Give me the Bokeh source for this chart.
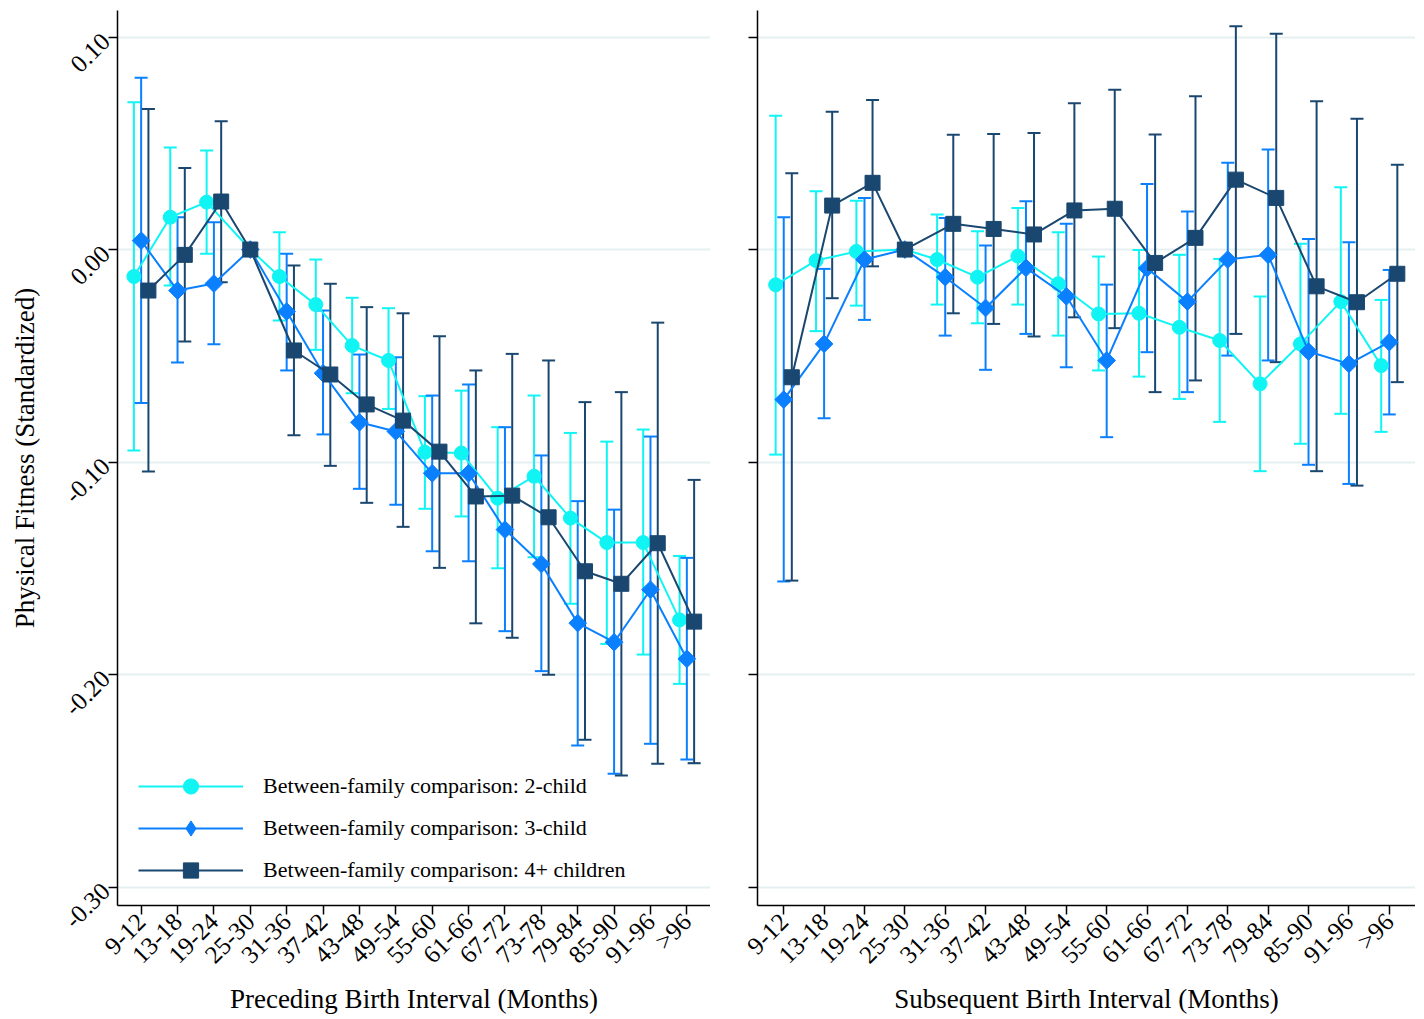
import math
from bokeh.plotting import figure
from bokeh.models import (ColumnDataSource, Range1d, FixedTicker, PrintfTickFormatter,
                          CustomJSTickFormatter, Whisker, TeeHead, Legend, LegendItem)
from bokeh.layouts import row
from bokeh.embed import file_html
from bokeh.resources import INLINE

# ---------------- data ----------------
categories = ["9-12", "13-18", "19-24", "25-30", "31-36", "37-42", "43-48", "49-54",
              "55-60", "61-66", "67-72", "73-78", "79-84", "85-90", "91-96", ">96"]
ref_category = "25-30"
y_ticks = [0.10, 0.00, -0.10, -0.20, -0.30]

series_names = ["Between-family comparison: 2-child",
                "Between-family comparison: 3-child",
                "Between-family comparison: 4+ children"]

# Preceding birth interval
pre_2 = [-0.0127, 0.0152, 0.0223, 0, -0.0127, -0.0259, -0.0452, -0.0522, -0.0954, -0.0958, -0.1170, -0.1067, -0.1264, -0.1379, -0.1379, -0.1743]
pre_2_lo = [-0.0946, -0.0169, -0.0020, 0, -0.0334, -0.0472, -0.0676, -0.0750, -0.1220, -0.1256, -0.1500, -0.1448, -0.1667, -0.1856, -0.1906, -0.2044]
pre_2_hi = [0.0693, 0.0480, 0.0466, 0, 0.0081, -0.0047, -0.0227, -0.0276, -0.0690, -0.0664, -0.0836, -0.0687, -0.0863, -0.0904, -0.0847, -0.1442]

pre_3 = [0.0042, -0.0193, -0.0160, 0, -0.0292, -0.0582, -0.0813, -0.0856, -0.1053, -0.1053, -0.1318, -0.1480, -0.1758, -0.1848, -0.1601, -0.1926]
pre_3_lo = [-0.0722, -0.0532, -0.0446, 0, -0.0569, -0.0870, -0.1126, -0.1201, -0.1420, -0.1467, -0.1796, -0.1984, -0.2334, -0.2467, -0.2326, -0.2400]
pre_3_hi = [0.0808, 0.0152, 0.0128, 0, -0.0020, -0.0287, -0.0494, -0.0507, -0.0687, -0.0635, -0.0836, -0.0969, -0.1184, -0.1224, -0.0880, -0.1451]

pre_4 = [-0.0193, -0.0025, 0.0226, 0, -0.0475, -0.0588, -0.0729, -0.0805, -0.0951, -0.1162, -0.1158, -0.1260, -0.1514, -0.1573, -0.1382, -0.1751]
pre_4_lo = [-0.1045, -0.0433, -0.0154, 0, -0.0874, -0.1018, -0.1192, -0.1305, -0.1498, -0.1759, -0.1827, -0.2001, -0.2307, -0.2475, -0.2420, -0.2417]
pre_4_hi = [0.0662, 0.0384, 0.0604, 0, -0.0075, -0.0161, -0.0271, -0.0300, -0.0408, -0.0569, -0.0491, -0.0522, -0.0718, -0.0671, -0.0344, -0.1084]

# Subsequent birth interval
sub_2 = [-0.0166, -0.0052, -0.0009, 0, -0.0047, -0.0130, -0.0031, -0.0161, -0.0303, -0.0300, -0.0366, -0.0428, -0.0632, -0.0444, -0.0245, -0.0546]
sub_2_lo = [-0.0965, -0.0384, -0.0264, 0, -0.0259, -0.0347, -0.0259, -0.0405, -0.0569, -0.0598, -0.0703, -0.0811, -0.1043, -0.0914, -0.0773, -0.0858]
sub_2_hi = [0.0630, 0.0274, 0.0230, 0, 0.0165, 0.0086, 0.0196, 0.0081, -0.0033, -0.0002, -0.0025, -0.0044, -0.0221, 0.0027, 0.0293, -0.0237]

sub_3 = [-0.0706, -0.0444, -0.0047, 0, -0.0130, -0.0275, -0.0086, -0.0220, -0.0522, -0.0088, -0.0245, -0.0047, -0.0025, -0.0480, -0.0538, -0.0436]
sub_3_lo = [-0.1562, -0.0794, -0.0331, 0, -0.0405, -0.0566, -0.0397, -0.0554, -0.0883, -0.0483, -0.0671, -0.0499, -0.0522, -0.1013, -0.1103, -0.0776]
sub_3_hi = [0.0152, -0.0091, 0.0243, 0, 0.0149, 0.0019, 0.0227, 0.0121, -0.0165, 0.0309, 0.0179, 0.0408, 0.0471, 0.0050, 0.0034, -0.0096]

sub_4 = [-0.0601, 0.0207, 0.0314, 0, 0.0121, 0.0097, 0.0071, 0.0184, 0.0192, -0.0063, 0.0055, 0.0329, 0.0243, -0.0173, -0.0248, -0.0114]
sub_4_lo = [-0.1558, -0.0229, -0.0079, 0, -0.0300, -0.0350, -0.0409, -0.0319, -0.0370, -0.0671, -0.0616, -0.0397, -0.0530, -0.1043, -0.1111, -0.0624]
sub_4_hi = [0.0359, 0.0649, 0.0704, 0, 0.0540, 0.0544, 0.0549, 0.0688, 0.0752, 0.0541, 0.0721, 0.1051, 0.1015, 0.0698, 0.0616, 0.0399]

# ---------------- style ----------------
FONT = "Liberation Serif"
colors = ["#10f4f4", "#0a80ff", "#1a476f"]
markers = [("circle", 14, 0.0), ("square", 12.5, math.pi / 4), ("square", 15, 0.0)]
legend_markers = ["circle", "diamond", "square"]
offsets = [-0.2, 0.0, 0.2]
GRID = "#e6eff1"
NAN = float("nan")


def build(title, data, width, border_left, show_y_labels, with_legend):
    p = figure(width=width, height=1010, frame_width=width - border_left, frame_height=895,
               min_border_left=border_left, min_border_right=0, min_border_top=10,
               min_border_bottom=105, output_backend="svg", toolbar_location=None,
               x_range=Range1d(-0.65, 15.65), y_range=Range1d(-0.3087, 0.1125))
    p.outline_line_color = None
    p.background_fill_color = "white"
    p.xgrid.visible = False
    p.ygrid.grid_line_color = GRID
    p.ygrid.grid_line_width = 2
    p.ygrid.ticker = FixedTicker(ticks=y_ticks)

    xa = p.xaxis[0]
    xa.ticker = FixedTicker(ticks=list(range(len(categories))))
    xa.major_label_overrides = {i: c for i, c in enumerate(categories)}
    xa.major_label_orientation = math.pi / 4
    xa.axis_label = title
    ya = p.yaxis[0]
    ya.ticker = FixedTicker(ticks=y_ticks)
    ya.major_label_orientation = math.pi / 4
    if show_y_labels:
        ya.formatter = PrintfTickFormatter(format="%.2f")
        ya.axis_label = "Physical Fitness (Standardized)"
        ya.axis_label_standoff = 14
    else:
        ya.formatter = CustomJSTickFormatter(code="return ''")
    for ax in (xa, ya):
        ax.axis_line_color = "black"
        ax.axis_line_width = 1.5
        ax.major_tick_line_color = "black"
        ax.major_tick_line_width = 1.5
        ax.major_tick_out = 9
        ax.major_tick_in = 0
        ax.minor_tick_line_color = None
        ax.major_label_text_font = FONT
        ax.major_label_text_color = "black"
        ax.major_label_text_font_size = "25px"
        ax.major_label_standoff = 3
        ax.axis_label_text_font = FONT
        ax.axis_label_text_font_style = "normal"
        ax.axis_label_text_font_size = "27px"
        ax.axis_label_text_color = "black"
    xa.axis_label_standoff = 3

    legend_items = []
    for k, (vals, lo, hi) in enumerate(data):
        xs = [i if c == ref_category else i + offsets[k] for i, c in enumerate(categories)]
        wx = [x for x, c in zip(xs, categories) if c != ref_category]
        wlo = [v for v, c in zip(lo, categories) if c != ref_category]
        whi = [v for v, c in zip(hi, categories) if c != ref_category]
        wsrc = ColumnDataSource(dict(x=wx, lower=wlo, upper=whi))
        w = Whisker(source=wsrc, base="x", lower="lower", upper="upper", dimension="height",
                    line_color=colors[k], line_width=2,
                    lower_head=TeeHead(size=13, line_color=colors[k], line_width=2),
                    upper_head=TeeHead(size=13, line_color=colors[k], line_width=2))
        p.add_layout(w)
        src = ColumnDataSource(dict(x=xs, y=vals))
        ln = p.line("x", "y", source=src, line_color=colors[k], line_width=2)
        mk, sz, ang = markers[k]
        p.scatter("x", "y", source=src, marker=mk, size=sz, angle=ang,
                  fill_color=colors[k], line_color=colors[k])
        # legend-only glyph: one undefined point, never drawn in the plot
        lg = p.scatter(x=[NAN], y=[NAN], marker=legend_markers[k], size=sz,
                       fill_color=colors[k], line_color=colors[k])
        legend_items.append(LegendItem(label=series_names[k], renderers=[ln, lg]))

    if with_legend:
        leg = Legend(items=legend_items, location=(21, 16), orientation="vertical")
        leg.label_text_font = FONT
        leg.label_text_font_size = "22px"
        leg.label_text_color = "black"
        leg.glyph_width = 105
        leg.glyph_height = 38
        leg.label_height = 22
        leg.label_standoff = 20
        leg.spacing = 4
        leg.padding = 0
        leg.margin = 0
        leg.border_line_color = None
        leg.background_fill_alpha = 0
        p.add_layout(leg, "center")
    return p


left = build("Preceding Birth Interval (Months)",
             [(pre_2, pre_2_lo, pre_2_hi), (pre_3, pre_3_lo, pre_3_hi), (pre_4, pre_4_lo, pre_4_hi)],
             710, 117, True, True)
right = build("Subsequent Birth Interval (Months)",
              [(sub_2, sub_2_lo, sub_2_hi), (sub_3, sub_3_lo, sub_3_hi), (sub_4, sub_4_lo, sub_4_hi)],
              705, 47, False, False)

layout = row(left, right)
open("out.html", "w").write(file_html(layout, INLINE))
